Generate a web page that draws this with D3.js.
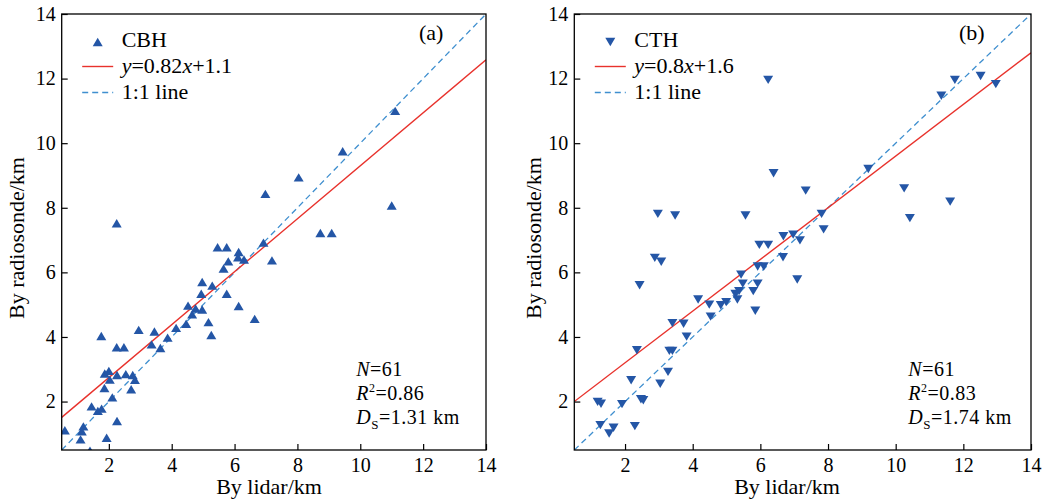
<!DOCTYPE html>
<meta charset="utf-8">
<style>
    body { margin: 0; background: #ffffff; }
    svg text { font-family: "Liberation Serif", "DejaVu Serif", serif; fill: #000; }
</style>
<div id="chart"></div>
<script src="https://d3js.org/d3.v7.min.js"></script>
<script>

    // tick values shared by both panels
    var tickValues = [2, 4, 6, 8, 10, 12, 14];

    // panel (a): cloud base height, lidar vs radiosonde (km)
    var cbhLidar = [11.0, 2.25, 8.73, 9.09, 5.46, 5.75, 6.13, 6.92, 6.11, 6.30, 5.80, 7.19, 5.65, 4.97, 4.94,
        5.29, 5.75, 4.52, 6.13, 6.64, 4.97, 4.76, 4.65, 5.17, 5.26, 4.46, 4.14, 3.87, 3.64, 3.36, 3.45, 2.95,
        1.76, 2.25, 2.48, 1.87, 2.00, 2.26, 2.54, 2.76, 2.83, 2.03, 1.86, 2.71, 2.11, 1.45, 1.77, 1.65, 2.26,
        0.60, 1.19, 1.14, 1.10, 1.93, 1.40, 11.11, 9.44, 8.04, 6.98];
    var cbhSonde = [8.07, 7.52, 7.22, 7.22, 6.78, 6.78, 6.63, 6.92, 6.47, 6.40, 6.34, 6.37, 6.12, 5.70, 5.34,
        5.59, 5.34, 4.97, 4.96, 4.56, 4.85, 4.88, 4.70, 4.46, 4.06, 4.41, 4.28, 3.98, 3.66, 3.77, 4.17, 4.22,
        4.03, 3.68, 3.68, 2.87, 2.95, 2.82, 2.85, 2.82, 2.67, 2.68, 2.42, 2.38, 2.13, 1.85, 1.78, 1.71, 1.40,
        1.11, 1.23, 1.08, 0.83, 0.88, 0.48, 11.0, 9.75, 8.94, 8.43];

    // panel (b): cloud top height
    var cthLidar = [11.61, 2.97, 3.48, 5.56, 7.81, 10.42, 7.87, 6.68, 6.97, 7.17, 5.97, 6.23, 6.67, 5.92, 6.10,
        7.09, 2.88, 3.07, 2.43, 5.43, 5.48, 5.92, 5.79, 5.37, 5.26, 5.32, 4.99, 4.83, 4.16, 4.49, 5.85, 4.53,
        3.40, 3.73, 3.82, 3.31, 3.40, 2.35, 3.27, 2.18, 3.04, 2.54, 2.47, 1.19, 1.29, 1.91, 1.27, 2.29, 1.66,
        1.53, 6.23, 11.75, 12.51, 12.96, 11.35, 9.19, 6.39, 7.34, 10.25];
    var cthSonde = [8.19, 7.81, 7.76, 7.76, 7.81, 7.68, 7.33, 7.12, 7.17, 6.99, 6.85, 6.85, 6.47, 6.18, 6.18,
        5.78, 6.45, 6.33, 5.60, 5.93, 5.65, 5.65, 5.42, 5.42, 5.33, 5.16, 5.08, 4.98, 5.16, 5.00, 4.81, 4.63,
        4.43, 4.41, 4.01, 3.57, 3.57, 3.59, 2.92, 2.66, 2.55, 2.04, 2.07, 1.99, 1.93, 1.92, 1.27, 1.24, 1.19,
        1.01, 11.96, 11.96, 12.08, 11.83, 11.47, 9.20, 9.07, 8.53, 8.60];

    // fitted lines: slope, intercept
    var fitA = [0.82, 1.1];
    var fitB = [0.8, 1.6];

    var statsA = ["61", "0.86", "1.31"];
    var statsB = ["61", "0.83", "1.74"];

    var blue = "#2456a6", red = "#e8322c", dash = "#3f8fcf";

    var svg = d3.select("#chart").append("svg")
        .attr("width", 1050)
        .attr("height", 500);

    svg.append("rect").attr("width", 1050).attr("height", 500).attr("fill", "#ffffff");

    var panels = [
        { id: "a", left: 61.7, right: 486, xs: cbhLidar, ys: cbhSonde, up: true, name: "CBH",
          fit: fitA, fitText: ["0.82", "1.1"], stats: statsA, ylabX: 16, xlabX: 269, tagX: 419 },
        { id: "b", left: 574.3, right: 1031, xs: cthLidar, ys: cthSonde, up: false, name: "CTH",
          fit: fitB, fitText: ["0.8", "1.6"], stats: statsB, ylabX: 533, xlabX: 787, tagX: 959 }
    ];

    var plotTop = 14, plotBottom = 450;

    panels.forEach(function (p) {
        var x = d3.scaleLinear().domain([0.5, 14]).range([p.left, p.right]);
        var y = d3.scaleLinear().domain([0.5, 14]).range([plotBottom, plotTop]);

        var g = svg.append("g");

        g.append("clipPath").attr("id", "clip" + p.id)
            .append("rect")
            .attr("x", p.left).attr("y", plotTop)
            .attr("width", p.right - p.left).attr("height", plotBottom - plotTop);

        var plot = g.append("g").attr("clip-path", "url(#clip" + p.id + ")");

        // 1:1 line
        plot.append("line")
            .attr("x1", x(0.5)).attr("y1", y(0.5))
            .attr("x2", x(14)).attr("y2", y(14))
            .attr("stroke", dash).attr("stroke-width", 1.3)
            .attr("stroke-dasharray", "6,4");

        // regression line
        plot.append("line")
            .attr("x1", x(0.5)).attr("y1", y(p.fit[0] * 0.5 + p.fit[1]))
            .attr("x2", x(14)).attr("y2", y(p.fit[0] * 14 + p.fit[1]))
            .attr("stroke", red).attr("stroke-width", 1.4);

        // triangles
        function tri(cx, cy, up) {
            var w = 5, h = 4.2;
            if (up) return "M" + cx + "," + (cy - h) + "L" + (cx + w) + "," + (cy + h) + "L" + (cx - w) + "," + (cy + h) + "Z";
            return "M" + cx + "," + (cy + h) + "L" + (cx + w) + "," + (cy - h) + "L" + (cx - w) + "," + (cy - h) + "Z";
        }
        plot.selectAll("path.pt")
            .data(p.xs)
            .enter()
            .append("path")
            .attr("class", "pt")
            .attr("d", function (d, i) { return tri(x(d), y(p.ys[i]), p.up); })
            .attr("fill", blue);

        // axes, ticks inward
        var xAxis = g.append("g")
            .attr("transform", "translate(0," + plotBottom + ")")
            .call(d3.axisBottom(x).tickValues(tickValues).tickSizeInner(-6).tickSizeOuter(0).tickPadding(8));
        var yAxis = g.append("g")
            .attr("transform", "translate(" + p.left + ",0)")
            .call(d3.axisLeft(y).tickValues(tickValues).tickSizeInner(-6).tickSizeOuter(0).tickPadding(6));
        [xAxis, yAxis].forEach(function (a) {
            a.select(".domain").remove();
            a.selectAll("line").attr("stroke", "#000").attr("stroke-width", 1.2);
            a.selectAll("text").style("font-size", "20px").attr("fill", "#000");
        });

        // frame
        g.append("rect")
            .attr("x", p.left).attr("y", plotTop)
            .attr("width", p.right - p.left).attr("height", plotBottom - plotTop)
            .attr("fill", "none").attr("stroke", "#000").attr("stroke-width", 1.3);

        // axis titles
        g.append("text")
            .attr("x", p.xlabX).attr("y", 494)
            .attr("text-anchor", "middle")
            .style("font-size", "22px")
            .text("By lidar/km");
        g.append("text")
            .attr("transform", "translate(" + p.ylabX + ",238)rotate(-90)")
            .attr("text-anchor", "middle")
            .attr("dy", "0.35em")
            .style("font-size", "22px")
            .text("By radiosonde/km");

        // panel tag
        g.append("text")
            .attr("x", p.tagX).attr("y", 40)
            .style("font-size", "22px")
            .text("(" + p.id + ")");

        // legend
        var lx = p.left + 20.5;
        g.append("path")
            .attr("d", tri(lx + 15.5, 42, p.up))
            .attr("fill", blue);
        g.append("text").attr("x", lx + 39.5).attr("y", 47).style("font-size", "22px").text(p.name);

        g.append("line")
            .attr("x1", lx).attr("x2", lx + 31).attr("y1", 66.5).attr("y2", 66.5)
            .attr("stroke", red).attr("stroke-width", 1.4);
        var eq = g.append("text").attr("x", lx + 39.5).attr("y", 73).style("font-size", "22px");
        eq.append("tspan").style("font-style", "italic").text("y");
        eq.append("tspan").text("=" + p.fitText[0]);
        eq.append("tspan").style("font-style", "italic").text("x");
        eq.append("tspan").text("+" + p.fitText[1]);

        g.append("line")
            .attr("x1", lx).attr("x2", lx + 31).attr("y1", 92.5).attr("y2", 92.5)
            .attr("stroke", dash).attr("stroke-width", 1.3).attr("stroke-dasharray", "6,4");
        g.append("text").attr("x", lx + 39.5).attr("y", 99).style("font-size", "22px").text("1:1 line");

        // statistics
        var sx = p.left + (p.id === "a" ? 294.5 : 334);
        var t1 = g.append("text").attr("x", sx).attr("y", 376).style("font-size", "20px").style("letter-spacing", "0.5px");
        t1.append("tspan").style("font-style", "italic").text("N");
        t1.append("tspan").text("=" + p.stats[0]);

        var t2 = g.append("text").attr("x", sx).attr("y", 400).style("font-size", "20px").style("letter-spacing", "0.5px");
        t2.append("tspan").style("font-style", "italic").text("R");
        t2.append("tspan").attr("dy", -8).style("font-size", "12px").text("2");
        t2.append("tspan").attr("dy", 8).text("=" + p.stats[1]);

        var t3 = g.append("text").attr("x", sx).attr("y", 424).style("font-size", "20px").style("letter-spacing", "0.5px");
        t3.append("tspan").style("font-style", "italic").text("D");
        t3.append("tspan").attr("dy", 5).style("font-size", "13px").text("S");
        t3.append("tspan").attr("dy", -5).text("=" + p.stats[2] + " km");
    });

</script>
